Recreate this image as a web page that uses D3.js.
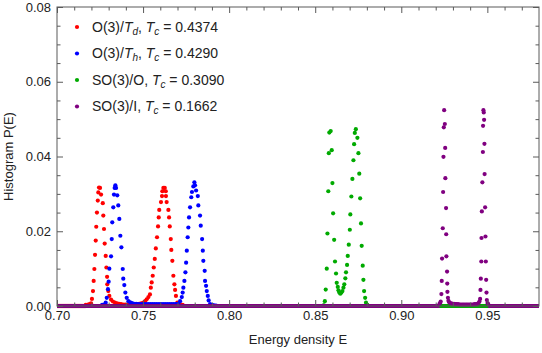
<!DOCTYPE html>
<html>
<head>
<meta charset="utf-8">
<script src="https://cdn.jsdelivr.net/npm/d3@7"></script>
<style>
  body { margin: 0; background: #fff; }
  svg { display: block; font-family: "Liberation Sans", Arial, sans-serif; }
</style>
</head>
<body>
<div id="wrapper"></div>
<script>
// Histogram points: [energy density E, P(E)]
const o3TdPoints = [
    [0.7167,0.0003],[0.7180,0.0004],[0.7190,0.0005],[0.7198,0.0007],
    [0.7203,0.0019],[0.7209,0.0040],[0.7213,0.0067],[0.7217,0.0099],[0.7221,0.0137],[0.7225,0.0175],
    [0.7228,0.0212],[0.7232,0.0250],[0.7237,0.0282],[0.7240,0.0304],[0.7244,0.0317],[0.7250,0.0316],
    [0.7256,0.0298],[0.7266,0.0275],[0.7269,0.0242],[0.7273,0.0206],[0.7277,0.0167],[0.7283,0.0134],
    [0.7287,0.0103],[0.7291,0.0078],[0.7292,0.0058],[0.7298,0.0040],[0.7304,0.0027],[0.7314,0.0017],
    [0.7325,0.0012],[0.7337,0.0009],[0.7349,0.0007],[0.7361,0.0006],[0.7372,0.0005],[0.7384,0.0004],
    [0.7396,0.0004],[0.7407,0.0003],[0.7419,0.0003],[0.7431,0.0003],[0.7442,0.0004],[0.7454,0.0004],
    [0.7466,0.0005],[0.7477,0.0006],[0.7489,0.0007],[0.7501,0.0009],[0.7512,0.0013],[0.7521,0.0018],
    [0.7531,0.0024],[0.7540,0.0031],[0.7545,0.0049],[0.7550,0.0063],[0.7556,0.0081],[0.7562,0.0103],
    [0.7568,0.0126],[0.7574,0.0154],[0.7581,0.0184],[0.7587,0.0213],[0.7591,0.0237],[0.7594,0.0257],
    [0.7604,0.0278],[0.7610,0.0294],[0.7612,0.0307],[0.7618,0.0316],[0.7626,0.0316],[0.7632,0.0307],
    [0.7633,0.0294],[0.7637,0.0278],[0.7647,0.0257],[0.7651,0.0237],[0.7655,0.0213],[0.7661,0.0179],
    [0.7664,0.0150],[0.7670,0.0121],[0.7676,0.0081],[0.7682,0.0058],[0.7686,0.0043],[0.7691,0.0027],
    [0.7699,0.0009],[0.7715,0.0005],[0.7730,0.0003]
];
const o3ThPoints = [
    [0.7262,0.0003],[0.7273,0.0004],[0.7283,0.0009],[0.7289,0.0022],[0.7296,0.0045],[0.7300,0.0065],
    [0.7304,0.0100],[0.7314,0.0133],[0.7318,0.0179],[0.7321,0.0224],[0.7327,0.0264],[0.7331,0.0298],
    [0.7335,0.0316],[0.7339,0.0323],[0.7343,0.0316],[0.7350,0.0296],[0.7356,0.0269],[0.7362,0.0233],
    [0.7368,0.0188],[0.7374,0.0157],[0.7382,0.0099],[0.7385,0.0073],[0.7391,0.0056],[0.7397,0.0036],
    [0.7405,0.0022],[0.7415,0.0013],[0.7425,0.0010],[0.7436,0.0008],[0.7448,0.0006],[0.7460,0.0006],
    [0.7472,0.0005],[0.7484,0.0005],[0.7496,0.0005],[0.7508,0.0005],[0.7520,0.0005],[0.7532,0.0005],
    [0.7544,0.0005],[0.7556,0.0005],[0.7568,0.0005],[0.7580,0.0005],[0.7592,0.0005],[0.7604,0.0005],
    [0.7616,0.0005],[0.7628,0.0005],[0.7640,0.0005],[0.7652,0.0005],[0.7664,0.0005],[0.7676,0.0005],
    [0.7688,0.0005],[0.7697,0.0005],[0.7705,0.0006],[0.7715,0.0013],[0.7725,0.0024],[0.7730,0.0036],
    [0.7734,0.0049],[0.7740,0.0067],[0.7746,0.0090],[0.7750,0.0116],[0.7754,0.0148],[0.7759,0.0184],
    [0.7763,0.0210],[0.7767,0.0237],[0.7773,0.0264],[0.7780,0.0291],[0.7784,0.0305],[0.7792,0.0320],
    [0.7798,0.0331],[0.7802,0.0323],[0.7808,0.0309],[0.7818,0.0294],[0.7821,0.0269],[0.7831,0.0242],
    [0.7835,0.0215],[0.7843,0.0179],[0.7847,0.0148],[0.7850,0.0121],[0.7858,0.0094],[0.7860,0.0067],
    [0.7866,0.0054],[0.7870,0.0040],[0.7876,0.0027],[0.7881,0.0015],[0.7889,0.0005],[0.7901,0.0003],
    [0.7912,0.0002],[0.7924,0.0001]
];
const so3OPoints = [
    [0.8547,0.0001],[0.8551,0.0002],[0.8556,0.0013],[0.8561,0.0044],[0.8567,0.0100],[0.8571,0.0194],
    [0.8576,0.0307],[0.8579,0.0409],[0.8582,0.0464],[0.8590,0.0468],[0.8596,0.0417],[0.8600,0.0329],
    [0.8604,0.0248],[0.8610,0.0177],[0.8615,0.0119],[0.8621,0.0087],[0.8625,0.0062],[0.8631,0.0051],
    [0.8635,0.0042],[0.8640,0.0036],[0.8646,0.0033],[0.8652,0.0036],[0.8658,0.0040],[0.8664,0.0049],
    [0.8669,0.0058],[0.8675,0.0074],[0.8679,0.0090],[0.8685,0.0110],[0.8689,0.0134],[0.8695,0.0164],
    [0.8701,0.0204],[0.8704,0.0245],[0.8710,0.0293],[0.8716,0.0340],[0.8722,0.0390],[0.8726,0.0433],
    [0.8730,0.0463],[0.8736,0.0473],[0.8745,0.0450],[0.8751,0.0409],[0.8756,0.0354],[0.8761,0.0288],
    [0.8766,0.0221],[0.8770,0.0161],[0.8776,0.0108],[0.8780,0.0070],[0.8784,0.0040],[0.8790,0.0022],
    [0.8795,0.0009],[0.8803,0.0003]
];
const so3IPoints = [
    [0.9222,0.0006],[0.9226,0.0008],[0.9229,0.0012],[0.9233,0.0032],[0.9235,0.0067],[0.9237,0.0127],
    [0.9241,0.0208],[0.9243,0.0305],[0.9245,0.0399],[0.9247,0.0478],[0.9249,0.0524],[0.9253,0.0487],
    [0.9255,0.0423],[0.9256,0.0342],[0.9260,0.0262],[0.9261,0.0192],[0.9262,0.0133],[0.9266,0.0092],
    [0.9267,0.0060],[0.9268,0.0038],[0.9271,0.0022],[0.9274,0.0014],[0.9278,0.0010],[0.9283,0.0008],
    [0.9290,0.0007],[0.9298,0.0006],[0.9306,0.0006],[0.9314,0.0005],[0.9322,0.0005],[0.9330,0.0005],
    [0.9338,0.0004],[0.9346,0.0004],[0.9354,0.0004],[0.9362,0.0004],[0.9370,0.0004],[0.9378,0.0004],
    [0.9386,0.0004],[0.9394,0.0004],[0.9402,0.0004],[0.9410,0.0004],[0.9418,0.0004],[0.9426,0.0005],
    [0.9434,0.0005],[0.9442,0.0006],[0.9449,0.0008],[0.9454,0.0012],[0.9458,0.0019],[0.9460,0.0043],
    [0.9462,0.0073],[0.9465,0.0119],[0.9466,0.0182],[0.9468,0.0253],[0.9471,0.0331],[0.9474,0.0412],
    [0.9475,0.0482],[0.9477,0.0524],[0.9479,0.0518],[0.9481,0.0498],[0.9483,0.0434],[0.9484,0.0353],
    [0.9487,0.0264],[0.9489,0.0186],[0.9491,0.0119],[0.9493,0.0070],[0.9495,0.0036],[0.9497,0.0016],
    [0.9501,0.0008],[0.9505,0.0005]
];
// stretches where a series sits on P(E) = 0
const o3TdZeros = [[0.70, 0.7167], [0.7730, 0.98]];
const o3ThZeros = [[0.70, 0.7262], [0.7924, 0.98]];
const so3OZeros = [[0.70, 0.8547], [0.8803, 0.98]];
const so3IZeros = [[0.70, 0.9222], [0.9505, 0.98]];

// legend pieces
const groupNames = ["O(3)/", "O(3)/", "SO(3)/O", "SO(3)/I"];
const groupSubs = ["d", "h", null, null];
const tcValues = ["0.4374", "0.4290", "0.3090", "0.1662"];
const seriesColors = ["#ff0000", "#0000ff", "#00aa00", "#800080"];

// axis ticks
const xMajorTicks = [0.70, 0.75, 0.80, 0.85, 0.90, 0.95];
const xMinorTicks = [0.71,0.72,0.73,0.74,0.76,0.77,0.78,0.79,0.81,0.82,0.83,0.84,0.86,0.87,0.88,0.89,0.91,0.92,0.93,0.94,0.96,0.97];
const yMajorTicks = [0, 0.02, 0.04, 0.06, 0.08];
const yMinorTicks = [0.005,0.01,0.015,0.025,0.03,0.035,0.045,0.05,0.055,0.065,0.07,0.075];

const seriesPoints = [o3TdPoints, o3ThPoints, so3OPoints, so3IPoints];
const seriesZeros = [o3TdZeros, o3ThZeros, so3OZeros, so3IZeros];

let dimensions = {
    width: 542,
    height: 353,
    margins: { top: 7, right: 3, bottom: 47, left: 57 }
};
dimensions.boundedWidth = dimensions.width - dimensions.margins.left - dimensions.margins.right;
dimensions.boundedHeight = dimensions.height - dimensions.margins.top - dimensions.margins.bottom;

const dotRadius = 2.1;
const frameColor = "#5a5a5a";

const wrapper = d3.select("#wrapper")
    .append("svg")
        .attr("width", dimensions.width)
        .attr("height", dimensions.height);

const boundingBox = wrapper.append("g")
    .attr("transform", `translate(${dimensions.margins.left},${dimensions.margins.top})`);

const xScale = d3.scaleLinear()
    .domain([0.70, 0.98])
    .range([0, dimensions.boundedWidth]);
const yScale = d3.scaleLinear()
    .domain([0, 0.08])
    .range([dimensions.boundedHeight, 0]);

boundingBox.append("clipPath").attr("id", "plotClip")
    .append("rect")
        .attr("width", dimensions.boundedWidth)
        .attr("height", dimensions.boundedHeight + dotRadius + 1);

const dataLayer = boundingBox.append("g").attr("clip-path", "url(#plotClip)");

// draw series in order, each one on top of the previous
seriesPoints.forEach((points, i) => {
    const g = dataLayer.append("g");
    g.selectAll("line")
        .data(seriesZeros[i])
        .join("line")
            .attr("x1", d => xScale(d[0]))
            .attr("x2", d => xScale(d[1]))
            .attr("y1", yScale(0))
            .attr("y2", yScale(0))
            .attr("stroke", seriesColors[i])
            .attr("stroke-width", dotRadius * 2);
    g.selectAll("circle")
        .data(points)
        .join("circle")
            .attr("cx", d => xScale(d[0]))
            .attr("cy", d => yScale(d[1]))
            .attr("r", dotRadius)
            .attr("fill", seriesColors[i]);
});

// frame
boundingBox.append("rect")
    .attr("width", dimensions.boundedWidth)
    .attr("height", dimensions.boundedHeight)
    .attr("fill", "none")
    .attr("stroke", frameColor)
    .attr("stroke-width", 1);

const fmt = d3.format(".2f");
function styleAxis(sel, labels) {
    sel.select(".domain").remove();
    sel.selectAll(".tick line").attr("stroke", frameColor);
    sel.selectAll(".tick text")
        .attr("fill", labels ? "#222" : "none")
        .style("font-size", "13px")
        .style("font-family", "'Liberation Sans', Arial, sans-serif");
}

// bottom & top
boundingBox.append("g")
    .attr("transform", `translate(0,${dimensions.boundedHeight})`)
    .call(d3.axisBottom(xScale).tickValues(xMajorTicks).tickFormat(fmt).tickSize(-6).tickPadding(5))
    .call(s => styleAxis(s, true));
boundingBox.append("g")
    .attr("transform", `translate(0,${dimensions.boundedHeight})`)
    .call(d3.axisBottom(xScale).tickValues(xMinorTicks).tickFormat("").tickSize(-3.5))
    .call(s => styleAxis(s, false));
boundingBox.append("g")
    .call(d3.axisTop(xScale).tickValues(xMajorTicks).tickFormat("").tickSize(-6))
    .call(s => styleAxis(s, false));
boundingBox.append("g")
    .call(d3.axisTop(xScale).tickValues(xMinorTicks).tickFormat("").tickSize(-3.5))
    .call(s => styleAxis(s, false));

// left & right
boundingBox.append("g")
    .call(d3.axisLeft(yScale).tickValues(yMajorTicks).tickFormat(fmt).tickSize(-6).tickPadding(6))
    .call(s => styleAxis(s, true));
boundingBox.append("g")
    .call(d3.axisLeft(yScale).tickValues(yMinorTicks).tickFormat("").tickSize(-3.5))
    .call(s => styleAxis(s, false));
boundingBox.append("g")
    .attr("transform", `translate(${dimensions.boundedWidth},0)`)
    .call(d3.axisRight(yScale).tickValues(yMajorTicks).tickFormat("").tickSize(-6))
    .call(s => styleAxis(s, false));
boundingBox.append("g")
    .attr("transform", `translate(${dimensions.boundedWidth},0)`)
    .call(d3.axisRight(yScale).tickValues(yMinorTicks).tickFormat("").tickSize(-3.5))
    .call(s => styleAxis(s, false));

// axis titles
wrapper.append("text")
    .attr("x", dimensions.margins.left + dimensions.boundedWidth / 2)
    .attr("y", 344)
    .attr("text-anchor", "middle")
    .attr("fill", "#222")
    .style("font-size", "13px")
    .text("Energy density E");
wrapper.append("text")
    .attr("transform", `translate(13,${dimensions.margins.top + dimensions.boundedHeight / 2}) rotate(-90)`)
    .attr("text-anchor", "middle")
    .attr("fill", "#222")
    .style("font-size", "13px")
    .text("Histogram P(E)");

// legend
const legend = boundingBox.append("g").attr("transform", "translate(20,20)");
tcValues.forEach((tc, i) => {
    const row = legend.append("g").attr("transform", `translate(0,${i * 26.5})`);
    row.append("circle").attr("r", dotRadius).attr("fill", seriesColors[i]);
    const t = row.append("text")
        .attr("x", 15)
        .attr("dy", "0.35em")
        .attr("fill", "#222")
        .style("font-size", "14px");
    t.append("tspan").text(groupNames[i]);
    if (groupSubs[i]) {
        t.append("tspan").style("font-style", "italic").text("T");
        t.append("tspan").attr("dy", 3).style("font-size", "10px").style("font-style", "italic").text(groupSubs[i]);
        t.append("tspan").attr("dy", -3).text(", ");
    } else {
        t.append("tspan").text(", ");
    }
    t.append("tspan").style("font-style", "italic").text("T");
    t.append("tspan").attr("dy", 3).style("font-size", "10px").style("font-style", "italic").text("c");
    t.append("tspan").attr("dy", -3).text(" = " + tc);
});
</script>
</body>
</html>
